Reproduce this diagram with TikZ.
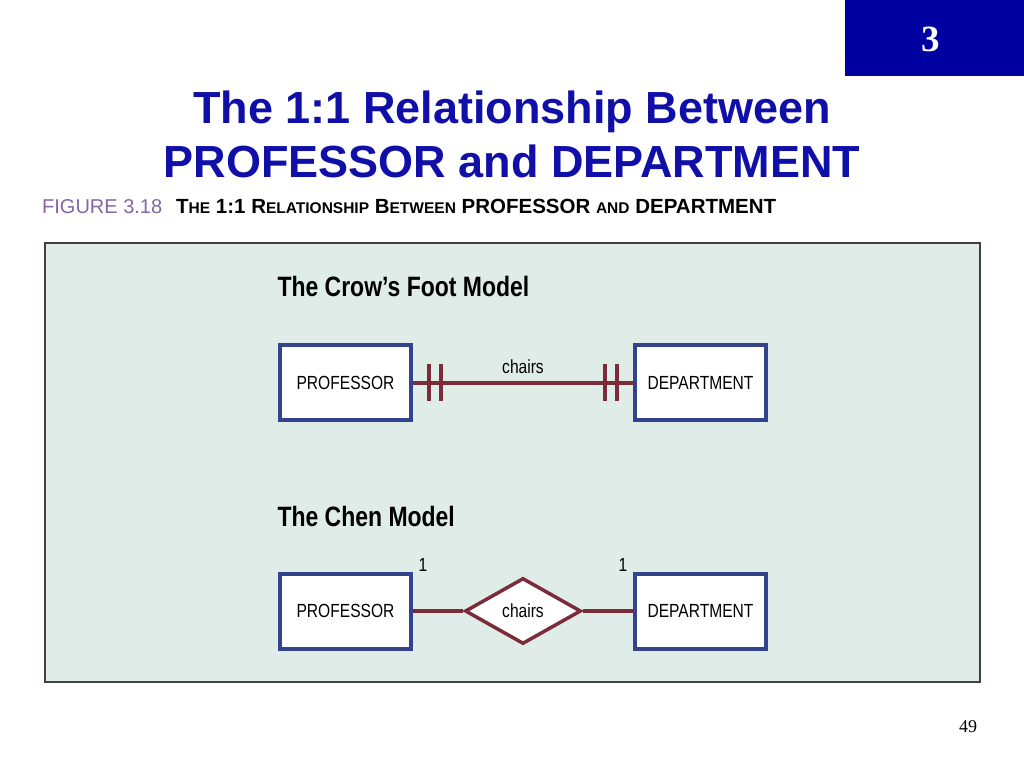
\documentclass[tikz,border=0pt]{standalone}
\usepackage{fontspec}
\setmainfont{Liberation Sans}
\newfontfamily\numfont{Liberation Serif}
\newfontfamily\narrowfont[FakeStretch=0.82]{Liberation Sans}
\usetikzlibrary{positioning,calc,shapes.geometric}

\definecolor{slideblue}{HTML}{0000A0}
\definecolor{titleblue}{HTML}{1010A8}
\definecolor{figpurple}{HTML}{8466A6}
\definecolor{panelbg}{HTML}{E0ECE8}
\definecolor{entityblue}{HTML}{34448C}
\definecolor{relred}{HTML}{7A2C38}

\newcommand{\capsc}[1]{{\fontsize{15.5}{15.5}\selectfont #1}}

\begin{document}
\begin{tikzpicture}[x=1pt,y=-1pt,
  entity/.style={draw=entityblue,line width=4pt,fill=white,minimum width=131pt,
    minimum height=75pt,inner sep=0pt,font=\narrowfont\fontsize{19}{19}\selectfont},
  relship/.style={diamond,draw=relred,line width=3.5pt,fill=white,minimum width=116pt,
    minimum height=66pt,inner sep=0pt,font=\narrowfont\fontsize{19}{19}\selectfont},
  relline/.style={draw=relred,line width=4pt},
  heading/.style={anchor=west,font=\narrowfont\bfseries\fontsize{28}{28}\selectfont},
  label/.style={font=\narrowfont\fontsize{19}{19}\selectfont}]
\useasboundingbox (0,0) rectangle (1024,768);
\fill[white] (0,0) rectangle (1024,768);
% slide number box
\fill[slideblue] (845,0) rectangle (1024,76);
\node[text=white,font=\numfont\bfseries\fontsize{37}{37}\selectfont] (slidenum) at (931,39) {3};
% slide title
\node[anchor=base,text=titleblue,font=\bfseries\fontsize{45}{45}\selectfont] (title1) at (512,123) {The 1:1 Relationship Between};
\node[anchor=base,text=titleblue,font=\bfseries\fontsize{45}{45}\selectfont] (title2) at (512,177) {PROFESSOR and DEPARTMENT};
% figure caption
\node[anchor=base west,inner sep=0pt,text=figpurple,font=\fontsize{20}{20}\selectfont] (fignum) at (42,213) {FIGURE 3.18};
\node[anchor=base west,inner sep=0pt,font=\bfseries\fontsize{20.5}{20.5}\selectfont] (figcap) at (176,213)
  {T\capsc{HE} 1:1 R\capsc{ELATIONSHIP} B\capsc{ETWEEN} PROFESSOR \capsc{AND} DEPARTMENT};
% panel
\draw[draw=black!75,line width=2pt,fill=panelbg] (45,243) rectangle (980,682);
% crow's foot model
\node[heading] (cfhead) at (274,286) {The Crow’s Foot Model};
\node[entity] (cfprof) at (345.5,382.5) {PROFESSOR};
\node[entity] (cfdept) at (700.5,382.5) {DEPARTMENT};
\draw[relline] (cfprof) -- (cfdept) node[midway,above=3pt,label] (cfchairs) {chairs};
\foreach \dx in {16,28} {
  \draw[relline] ($(cfprof.east)+(\dx,-19)$) -- ($(cfprof.east)+(\dx,18)$);
  \draw[relline] ($(cfdept.west)+(-\dx,-19)$) -- ($(cfdept.west)+(-\dx,18)$);
}
% chen model
\node[heading] (chhead) at (274,516) {The Chen Model};
\node[entity] (chprof) at (345.5,611) {PROFESSOR};
\node[entity] (chdept) at (700.5,611) {DEPARTMENT};
\node[relship] (chchairs) at (523,611) {chairs};
\draw[relline] (chprof) -- (chchairs);
\draw[relline] (chchairs) -- (chdept);
\node[label] (chone1) at (423,565) {1};
\node[label] (chone2) at (623,565) {1};
% page number
\node[font=\numfont\fontsize{18}{18}\selectfont] (pagenum) at (968,727) {49};
\end{tikzpicture}
\end{document}
